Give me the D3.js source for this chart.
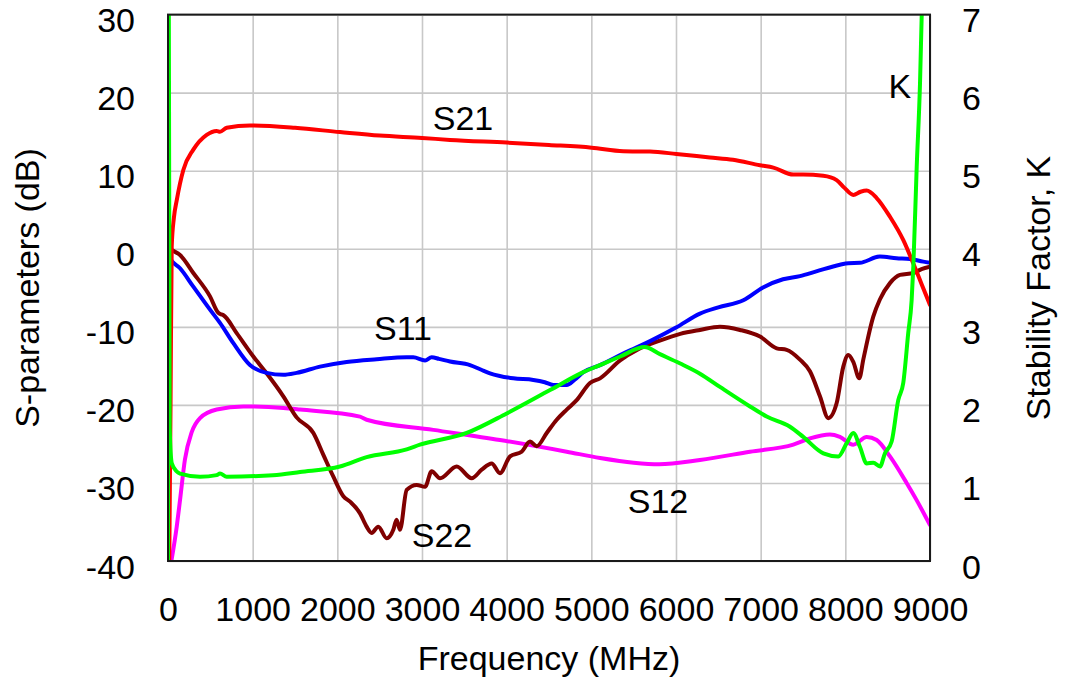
<!DOCTYPE html>
<html>
<head>
<meta charset="utf-8">
<script src="https://cdn.jsdelivr.net/npm/d3@7"></script>
<style>
  body { margin: 0; background: #fff; }
  text { font-family: "Liberation Sans", Arial, sans-serif; fill: #000; }
</style>
</head>
<body>
<div id="chart"></div>
<script>
// [frequency MHz, value]
const s21 = [[15,-40],[30,-20],[44,0.3],[70,4],[103,6.2],[181,10.1],[299,12.7],[457,14.6],[575,15.1],[614,15.0],[693,15.5],[968,15.8],[1500,15.5],[2031,14.95],[2500,14.5],[3000,14.2],[3330,13.95],[4000,13.6],[4500,13.3],[5004,12.95],[5377,12.5],[5693,12.45],[6004,12.15],[6400,11.7],[6673,11.4],[6992,10.7],[7150,10.4],[7386,9.5],[7500,9.5],[7740,9.35],[7897,8.8],[7990,7.8],[8094,6.9],[8180,7.3],[8252,7.45],[8370,6.5],[8527,4.1],[8685,1.1],[8803,-1.9],[8900,-4.5],[9000,-7.2]];

const s11 = [[0,-0.8],[32,-1.4],[142,-2.5],[299,-4.85],[496,-7.8],[614,-9.5],[772,-12.1],[968,-14.9],[1165,-15.9],[1362,-16.15],[1519,-15.9],[1795,-15.1],[2110,-14.5],[2465,-14.15],[2819,-13.9],[2897,-13.9],[3036,-14.3],[3114,-13.9],[3200,-14.1],[3331,-14.45],[3567,-14.9],[3700,-15.5],[3803,-15.95],[4079,-16.6],[4315,-16.8],[4450,-17.1],[4551,-17.45],[4709,-17.45],[4800,-16.8],[4906,-15.8],[5103,-14.9],[5400,-13.3],[5700,-11.8],[6000,-10.1],[6283,-8.3],[6500,-7.5],[6795,-6.6],[7028,-4.95],[7264,-3.9],[7464,-3.5],[7657,-2.9],[7936,-2.05],[8035,-1.85],[8172,-1.8],[8408,-1.0],[8605,-1.2],[8764,-1.3],[8921,-1.65],[9000,-1.8]];

const s22 = [[0,0.2],[44,-0.15],[142,-0.8],[299,-3.1],[496,-6.1],[594,-8.2],[630,-8.4],[653,-8.5],[811,-10.8],[1008,-13.8],[1165,-15.95],[1362,-18.9],[1519,-21.6],[1717,-23.6],[1835,-26.4],[1953,-29.2],[2071,-31.7],[2150,-32.4],[2268,-33.9],[2346,-35.6],[2405,-36.4],[2484,-35.6],[2583,-37.1],[2661,-36.0],[2700,-34.7],[2740,-36.0],[2819,-30.9],[2937,-30.25],[3036,-30.5],[3114,-28.5],[3213,-29.4],[3410,-27.9],[3587,-29.4],[3705,-28.3],[3823,-27.5],[3921,-28.75],[4040,-26.6],[4177,-26.0],[4276,-24.7],[4354,-25.3],[4473,-23.6],[4591,-21.9],[4709,-20.6],[4827,-19.4],[4984,-17.2],[5103,-16.6],[5340,-14.3],[5550,-12.9],[5800,-11.8],[6050,-10.9],[6283,-10.4],[6519,-10.0],[6756,-10.4],[6992,-11.25],[7189,-12.75],[7307,-12.95],[7464,-14.2],[7582,-15.7],[7700,-18.9],[7799,-21.7],[7897,-19.8],[7976,-15.1],[8035,-13.6],[8094,-14.5],[8165,-16.6],[8212,-14.2],[8330,-8.7],[8408,-6.5],[8527,-4.4],[8645,-3.35],[8803,-3.1],[8900,-2.6],[9000,-2.3]];

const s12 = [[40,-40],[103,-35.6],[142,-32.2],[200,-27],[280,-23.5],[378,-21.7],[575,-20.6],[890,-20.2],[1362,-20.4],[1559,-20.6],[2268,-21.5],[2346,-21.9],[3134,-23.2],[3921,-24.5],[4709,-26.0],[5103,-26.8],[5500,-27.4],[5800,-27.6],[6283,-27.05],[6874,-26.0],[7386,-25.1],[7582,-24.3],[7818,-23.8],[7936,-24.1],[8094,-25.1],[8252,-24.1],[8370,-24.5],[8527,-26.6],[8724,-30.0],[8842,-32.2],[9000,-35.4]];

const kFactor = [[0,0],[8,8],[20,1.7],[45,1.25],[100,1.15],[142,1.12],[378,1.08],[575,1.1],[614,1.12],[693,1.08],[1240,1.1],[1559,1.14],[2031,1.21],[2346,1.33],[2819,1.43],[2976,1.49],[3528,1.64],[4000,1.89],[4512,2.19],[4905,2.42],[5102,2.51],[5340,2.62],[5630,2.74],[5810,2.65],[6050,2.53],[6283,2.40],[6519,2.23],[6874,1.98],[7071,1.85],[7346,1.72],[7503,1.59],[7740,1.38],[7917,1.34],[8016,1.51],[8094,1.64],[8173,1.46],[8252,1.25],[8330,1.26],[8409,1.21],[8468,1.38],[8547,1.53],[8625,2.06],[8684,2.28],[8743,2.92],[8783,3.34],[8803,3.77],[8843,5.05],[8882,6.12],[8902,6.99],[8950,8.5]];

const xTicks = [0,1000,2000,3000,4000,5000,6000,7000,8000,9000];
const dbTicks = [-40,-30,-20,-10,0,10,20,30];
const kTicks = [0,1,2,3,4,5,6,7];

const labels = [
  {text: "S21", f: 3484, db: 15.2},
  {text: "S11", f: 2776, db: -11.7},
  {text: "S22", f: 3236, db: -38.2},
  {text: "S12", f: 5787, db: -33.8},
  {text: "K", f: 8645, db: 19.3}
];

const W = 1068, H = 678;
const margin = {left: 168, right: 930, top: 14.6, bottom: 561};
const fs = 34;

const svg = d3.select("#chart").append("svg")
  .attr("width", W)
  .attr("height", H);

const x = d3.scaleLinear().domain([0, 9000]).range([margin.left, margin.right]);
const yDb = d3.scaleLinear().domain([-40, 30]).range([margin.bottom, margin.top]);
const yK = d3.scaleLinear().domain([0, 7]).range([margin.bottom, margin.top]);

const plain = d => String(d);

// grid
svg.append("g")
  .attr("transform", `translate(0,${margin.bottom})`)
  .call(d3.axisBottom(x).tickValues(xTicks).tickSize(-(margin.bottom - margin.top)).tickFormat(""))
  .call(g => g.select(".domain").remove())
  .call(g => g.selectAll("line").attr("stroke", "#c8c8c8").attr("stroke-width", 1.6));

svg.append("g")
  .attr("transform", `translate(${margin.left},0)`)
  .call(d3.axisLeft(yDb).tickValues(dbTicks).tickSize(-(margin.right - margin.left)).tickFormat(""))
  .call(g => g.select(".domain").remove())
  .call(g => g.selectAll("line").attr("stroke", "#c8c8c8").attr("stroke-width", 1.6));

// tick labels
const xAxis = svg.append("g")
  .attr("transform", `translate(0,${margin.bottom})`)
  .call(d3.axisBottom(x).tickValues(xTicks).tickSize(0).tickPadding(0).tickFormat(plain));
xAxis.select(".domain").remove();
xAxis.selectAll("text").attr("y", 60).attr("dy", 0).attr("font-size", fs);

const yAxisL = svg.append("g")
  .attr("transform", `translate(${margin.left},0)`)
  .call(d3.axisLeft(yDb).tickValues(dbTicks).tickSize(0).tickPadding(33).tickFormat(plain));
yAxisL.select(".domain").remove();
yAxisL.selectAll("text").attr("dy", "0.5em").attr("font-size", fs);

const yAxisR = svg.append("g")
  .attr("transform", `translate(${margin.right},0)`)
  .call(d3.axisRight(yK).tickValues(kTicks).tickSize(0).tickPadding(32).tickFormat(plain));
yAxisR.select(".domain").remove();
yAxisR.selectAll("text").attr("dy", "0.5em").attr("font-size", fs);

svg.selectAll(".tick text").attr("font-family", "'Liberation Sans', Arial, sans-serif").attr("fill", "#000");

// axis titles
svg.append("text")
  .attr("x", 549).attr("y", 670)
  .attr("text-anchor", "middle")
  .attr("font-size", fs)
  .text("Frequency (MHz)");

svg.append("text")
  .attr("transform", "translate(39,288) rotate(-90)")
  .attr("text-anchor", "middle")
  .attr("font-size", fs)
  .text("S-parameters (dB)");

svg.append("text")
  .attr("transform", "translate(1050,288) rotate(-90)")
  .attr("text-anchor", "middle")
  .attr("font-size", fs)
  .text("Stability Factor, K");

// curves
svg.append("clipPath").attr("id", "plot")
  .append("rect")
  .attr("x", margin.left).attr("y", margin.top)
  .attr("width", margin.right - margin.left).attr("height", margin.bottom - margin.top);

const lineDb = d3.line().x(d => x(d[0])).y(d => yDb(d[1])).curve(d3.curveMonotoneX);
const lineK = d3.line().x(d => x(d[0])).y(d => yK(d[1])).curve(d3.curveMonotoneX);

const curves = svg.append("g").attr("clip-path", "url(#plot)");

const series = [
  {data: s12, color: "#ff00ff", line: lineDb},
  {data: s22, color: "#800000", line: lineDb},
  {data: s11, color: "#0000ff", line: lineDb},
  {data: s21, color: "#ff0000", line: lineDb},
  {data: kFactor, color: "#00ff00", line: lineK}
];

series.forEach(s => {
  curves.append("path")
    .datum(s.data)
    .attr("fill", "none")
    .attr("stroke", s.color)
    .attr("stroke-width", 4)
    .attr("stroke-linejoin", "round")
    .attr("stroke-linecap", "round")
    .attr("d", s.line);
});

// frame
svg.append("rect")
  .attr("x", margin.left).attr("y", margin.top)
  .attr("width", margin.right - margin.left).attr("height", margin.bottom - margin.top)
  .attr("fill", "none")
  .attr("stroke", "#1a1a1a")
  .attr("stroke-width", 2);

// curve labels
svg.selectAll(".curve-label")
  .data(labels)
  .join("text")
  .attr("class", "curve-label")
  .attr("x", d => x(d.f))
  .attr("y", d => yDb(d.db))
  .attr("text-anchor", "middle")
  .attr("font-size", fs)
  .text(d => d.text);
</script>
</body>
</html>
